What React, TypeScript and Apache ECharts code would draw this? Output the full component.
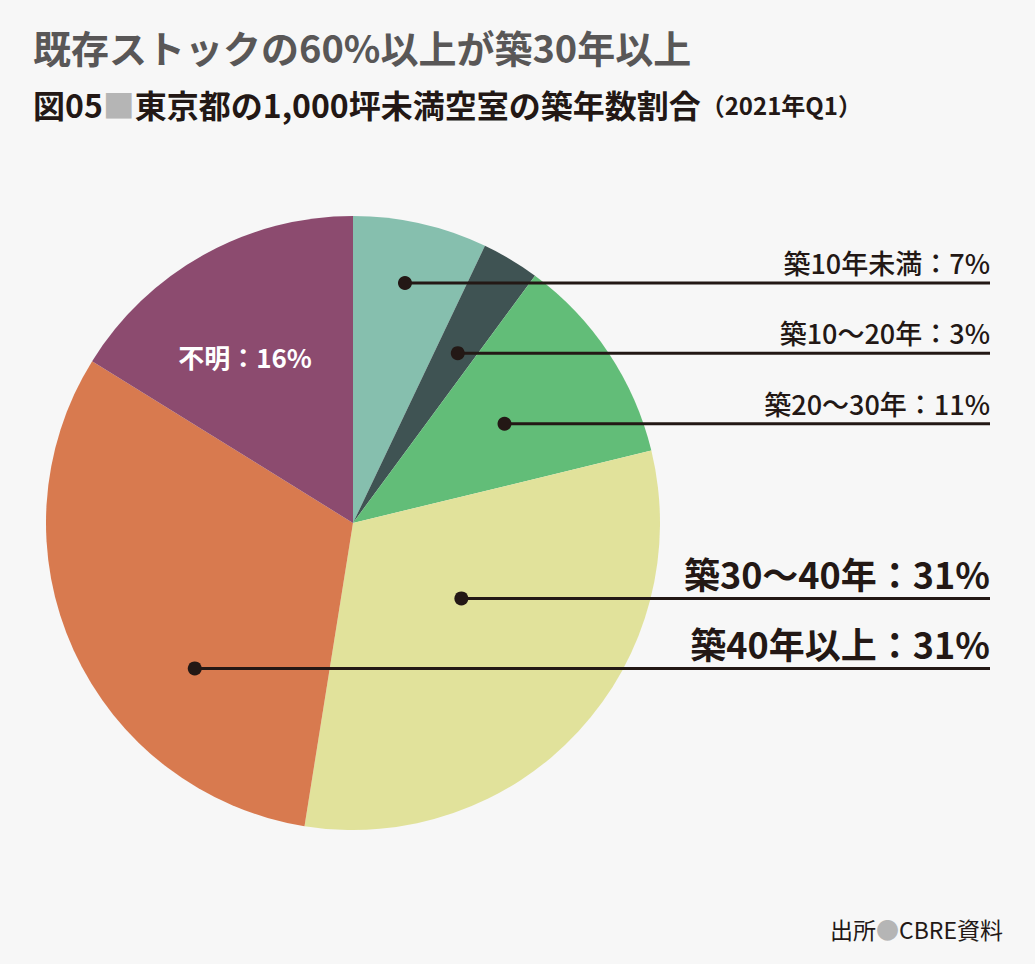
import React, { useEffect, useRef } from "react";
import * as echarts from "echarts";

// Share of vacant sub-1,000-tsubo floor space in Tokyo by building age (2021 Q1)
const categories = ["築10年未満", "築10～20年", "築20～30年", "築30～40年", "築40年以上", "不明"];
const shares = [7, 3, 11, 31, 31, 16];
const sliceColors = ["#86bfae", "#3f5353", "#62bd78", "#e1e29b", "#d87a4f", "#8c4b6f"];

// Callout anchor inside each slice: position along the slice's arc (0..1) and fraction of radius
const anchorAlong = [0.48, 0.57, 0.51, 0.43, 0.34, 0];
const anchorRadius = [0.8, 0.65, 0.59, 0.43, 0.7, 0];
const bigLabel = [false, false, false, true, true, false];

const CX = 353;
const CY = 523;
const R = 307;
const LINE_END = 990;
const INK = "#231815";
const FONT = '"Noto Sans CJK JP", "Noto Sans", sans-serif';

function buildGraphics() {
  const total = shares.reduce((a, b) => a + b, 0);
  const els: any[] = [];
  let start = 0;
  shares.forEach((v, i) => {
    const span = (v / total) * 360;
    const text = `${categories[i]}：${v}%`;
    if (i === shares.length - 1) {
      // unknown slice is labelled inside in white
      els.push({
        type: "text",
        x: 245,
        y: 356,
        z: 12,
        style: {
          text,
          fill: "#ffffff",
          font: `600 26px ${FONT}`,
          align: "center",
          verticalAlign: "middle",
        },
      });
    } else {
      const ang = ((start + span * anchorAlong[i]) * Math.PI) / 180;
      const r = R * anchorRadius[i];
      const x = CX + r * Math.sin(ang);
      const y = CY - r * Math.cos(ang);
      els.push({
        type: "line",
        shape: { x1: x, y1: y, x2: LINE_END, y2: y },
        style: { stroke: INK, lineWidth: 3 },
        z: 10,
      });
      els.push({
        type: "circle",
        shape: { cx: x, cy: y, r: 7 },
        style: { fill: INK },
        z: 11,
      });
      els.push({
        type: "text",
        x: LINE_END,
        y: y - 7,
        style: {
          text,
          fill: INK,
          font: bigLabel[i] ? `700 36px ${FONT}` : `500 27px ${FONT}`,
          align: "right",
          verticalAlign: "bottom",
        },
        z: 12,
      });
    }
    start += span;
  });
  return els;
}

export default function App() {
  const ref = useRef<HTMLDivElement>(null);

  useEffect(() => {
    document.body.style.margin = "0";
    const chart = echarts.init(ref.current!, undefined, { renderer: "svg" });
    chart.setOption({
      animation: false,
      backgroundColor: "#f7f7f7",
      title: [
        {
          text: "既存ストックの60%以上が築30年以上",
          left: 28,
          top: 22,
          textStyle: { color: "#595757", fontSize: 38, fontWeight: 700, fontFamily: FONT },
        },
        {
          text: "{k|図05}{sq|■}{k|東京都の1,000坪未満空室の築年数割合}{s|（2021年Q1）}",
          left: 28,
          top: 83,
          textStyle: {
            rich: {
              k: { color: INK, fontSize: 32, fontWeight: 700, fontFamily: FONT },
              sq: { color: "#b5b5b5", fontSize: 32, fontWeight: 700, fontFamily: FONT },
              s: { color: INK, fontSize: 24, fontWeight: 700, fontFamily: FONT },
            },
          },
        },
        {
          text: "{k|出所}{d|●}{k|CBRE資料}",
          right: 27,
          top: 912,
          textStyle: {
            rich: {
              k: { color: INK, fontSize: 23, fontWeight: 400, fontFamily: FONT },
              d: { color: "#b5b5b5", fontSize: 23, fontFamily: FONT },
            },
          },
        },
      ],
      series: [
        {
          type: "pie",
          center: [CX, CY],
          radius: [0, R],
          startAngle: 90,
          clockwise: true,
          label: { show: false },
          labelLine: { show: false },
          emphasis: { disabled: true },
          data: shares.map((v, i) => ({
            name: categories[i],
            value: v,
            itemStyle: { color: sliceColors[i] },
          })),
        },
      ],
      graphic: buildGraphics(),
    });
    return () => chart.dispose();
  }, []);

  return <div ref={ref} style={{ width: 1035, height: 964 }} />;
}
